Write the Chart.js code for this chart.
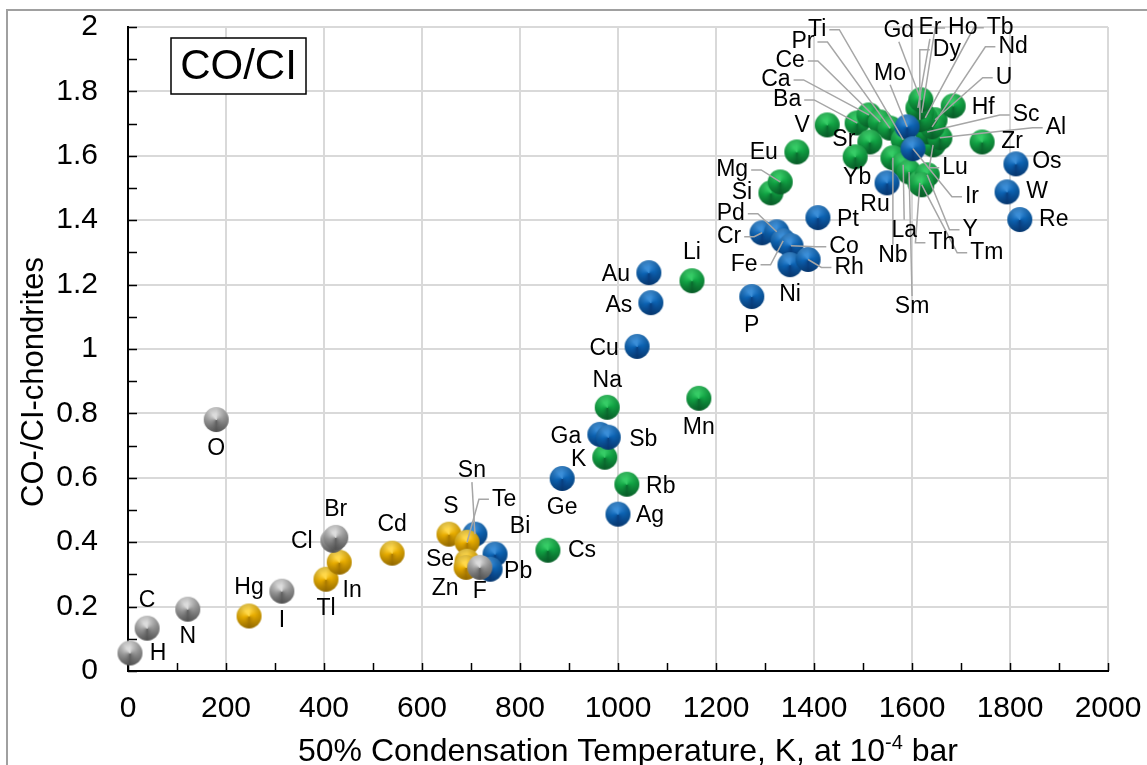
<!DOCTYPE html>
<html>
<head>
<meta charset="utf-8">
<script src="https://cdn.jsdelivr.net/npm/chart.js@4.4.1/dist/chart.umd.min.js"></script>
<style>
  html, body { margin: 0; padding: 0; background: #fff; overflow: hidden; }
  canvas { display: block; }
</style>
</head>
<body>
<canvas id="chart" width="1147" height="765"></canvas>
<script>
// CO / CI chondrite abundance ratios against 50% condensation temperature
const FONT = '"Liberation Sans", Arial, sans-serif';

// Highly volatile elements (grey)
const volatileNames = ['H', 'C', 'N', 'O', 'I', 'Cl', 'Br', 'F'];
const volatileTc    = [4, 39, 122, 180, 314, 418, 424, 718];
const volatileRatio = [0.056, 0.133, 0.192, 0.781, 0.248, 0.406, 0.415, 0.322];

// Moderately volatile chalcophile elements (yellow)
const chalcNames = ['Hg', 'Tl', 'In', 'Cd', 'S', 'Te', 'Se', 'Zn'];
const chalcTc    = [247, 404, 431, 539, 655, 692, 692, 690];
const chalcRatio = [0.171, 0.285, 0.338, 0.366, 0.425, 0.400, 0.341, 0.322];

// Siderophile elements (blue)
const sidNames = ['Sn', 'Bi', 'Pb', 'Ge', 'Ag', 'Ga', 'Sb', 'Cu', 'As', 'Au', 'P', 'Cr',
                  'Pd', 'Fe', 'Co', 'Ni', 'Rh', 'Pt', 'Ru', 'Mo', 'Ir', 'Os', 'W', 'Re'];
const sidTc    = [708, 749, 739, 886, 1000, 963, 980, 1039, 1067, 1063, 1273, 1294,
                  1324, 1337, 1353, 1351, 1388, 1408, 1549, 1590, 1602, 1812, 1794, 1820];
const sidRatio = [0.425, 0.363, 0.316, 0.598, 0.487, 0.735, 0.726, 1.008, 1.144, 1.237, 1.163, 1.361,
                  1.364, 1.336, 1.321, 1.262, 1.278, 1.408, 1.516, 1.690, 1.622, 1.575, 1.488, 1.402];

// Lithophile elements (green)
const lithNames = ['Cs', 'K', 'Rb', 'Na', 'Mn', 'Li', 'Si', 'Mg', 'Eu', 'V', 'Ba', 'Ca',
                   'Ce', 'Pr', 'Ti', 'Sr', 'Yb', 'Nb', 'La', 'Sm', 'Th', 'Y', 'Tm', 'Lu',
                   'Sc', 'Al', 'U', 'Nd', 'Tb', 'Ho', 'Dy', 'Er', 'Gd', 'Hf', 'Zr'];
const lithTc    = [857, 973, 1018, 978, 1165, 1151, 1312, 1331, 1365, 1427, 1488, 1512,
                   1535, 1555, 1582, 1514, 1484, 1561, 1582, 1594, 1616, 1631, 1620, 1643,
                   1631, 1657, 1647, 1641, 1627, 1620, 1616, 1612, 1618, 1684, 1743];
const lithRatio = [0.375, 0.664, 0.580, 0.819, 0.847, 1.212, 1.485, 1.519, 1.612, 1.696, 1.702, 1.727,
                   1.705, 1.686, 1.650, 1.643, 1.597, 1.594, 1.572, 1.550, 1.516, 1.541, 1.510, 1.634,
                   1.674, 1.656, 1.712, 1.690, 1.718, 1.733, 1.712, 1.749, 1.774, 1.755, 1.643];

// Axis tick labels
const xTickLabels = ['0', '200', '400', '600', '800', '1000', '1200', '1400', '1600', '1800', '2000'];
const yTickLabels = ['0', '0.2', '0.4', '0.6', '0.8', '1', '1.2', '1.4', '1.6', '1.8', '2'];

// Label placement: offset of the label centre from its marker, optional leader line
const labelPlacement = {
  H: [28, 1], C: [0, -28], N: [0, 27], O: [0, 29], I: [0, 30], Cl: [-31, 1], Br: [0, -28], F: [0, 24],
  Hg: [0, -28], Tl: [0, 29], In: [13, 28], Cd: [0, -28], S: [2, -27], Te: [37, -43, 1], Se: [-27, -2], Zn: [-21, 21],
  Sn: [-3, -63, 1], Bi: [25, -27], Pb: [28, 2], Ge: [0, 29], Ag: [32, 1], Ga: [-34, 2], Sb: [35, 2],
  Cu: [-33, 2], As: [-32, 3], Au: [-33, 2], P: [0, 29], Cr: [-33, 4, 1], Pd: [-46, -18, 1], Fe: [-39, 24, 1],
  Co: [53, 1, 1], Ni: [0, 30], Rh: [41, 8, 1], Pt: [30, 2], Ru: [-12, 22], Mo: [-17, -53, 1], Ir: [59, 48, 1],
  Os: [31, -2], W: [30, 0], Re: [34, 0],
  Cs: [34, 0], K: [-26, 2], Rb: [34, 2], Na: [0, -27], Mn: [0, 29], Li: [0, -28], Si: [-29, 0],
  Mg: [-48, -12, 1], Eu: [-33, 1], V: [-25, 1], Ba: [-70, -23, 1], Ca: [-93, -35, 1], Ce: [-90, -61, 1],
  Pr: [-87, -86, 1], Ti: [-86, -110, 1], Sr: [-26, -2], Yb: [2, 21], Nb: [0, 98, 1], La: [1, 66, 1],
  Sm: [3, 135, 1], Th: [22, 60, 1], Y: [43, 55, 1], Tm: [65, 68, 1], Lu: [22, 23, 1], Sc: [99, -17, 1],
  Al: [116, -10, 1], U: [69, -42, 1], Nd: [81, -80, 1], Tb: [75, -90, 1], Ho: [41, -85, 1], Dy: [27, -70, 1],
  Er: [12, -80, 1], Gd: [-22, -69, 1], Hf: [30, 2], Zr: [30, 0]
};

// Shaded ball marker drawn once per colour
function makeBall(light, mid, dark, r) {
  const d = Math.ceil(r * 2) + 2;
  const c = document.createElement('canvas');
  c.width = d; c.height = d;
  const g = c.getContext('2d');
  const cx = d / 2, cy = d / 2;
  const cg = g.createConicGradient(-Math.PI / 2, cx, cy);
  cg.addColorStop(0.00, light);
  cg.addColorStop(0.22, mid);
  cg.addColorStop(0.50, dark);
  cg.addColorStop(0.72, mid);
  cg.addColorStop(0.90, light);
  cg.addColorStop(1.00, light);
  g.beginPath();
  g.arc(cx, cy, r, 0, Math.PI * 2);
  g.fillStyle = cg;
  g.fill();
  const rg = g.createRadialGradient(cx, cy, r * 0.45, cx, cy, r);
  rg.addColorStop(0, 'rgba(0,0,0,0)');
  rg.addColorStop(1, 'rgba(0,0,0,0.16)');
  g.fillStyle = rg;
  g.fill();
  return c;
}

const R = 12.5;
const balls = {
  grey:   makeBall('#dcdcdc', '#9b9b9b', '#5f5f5f', R),
  yellow: makeBall('#ffd84a', '#e8ad00', '#a97900', R),
  blue:   makeBall('#3b8ed8', '#0c63b3', '#083f80', R),
  green:  makeBall('#36cc66', '#11a444', '#0a6a2e', R)
};

function points(xs, ys) { return xs.map((x, i) => ({ x: x, y: ys[i] })); }

function series(label, names, xs, ys, ball) {
  return {
    label: label,
    names: names,
    data: points(xs, ys),
    pointStyle: ball,
    pointRadius: R,
    pointHoverRadius: R,
    showLine: false,
    clip: false
  };
}

const framePlugin = {
  id: 'frame',
  beforeDraw(chart) {
    const ctx = chart.ctx;
    ctx.save();
    ctx.fillStyle = '#fff';
    ctx.fillRect(0, 0, chart.width, chart.height);
    ctx.strokeStyle = '#a0a0a0';
    ctx.lineWidth = 2;
    ctx.strokeRect(7, 10, chart.width + 20, chart.height + 20);
    ctx.restore();
  },
  beforeDatasetsDraw(chart) {
    // inward minor/major ticks on both axes
    const ctx = chart.ctx, xs = chart.scales.x, ys = chart.scales.y;
    const area = chart.chartArea;
    ctx.save();
    ctx.strokeStyle = '#000';
    ctx.lineWidth = 1.5;
    ctx.beginPath();
    for (let k = 0; k <= 20; k++) {
      const py = Math.round(ys.getPixelForValue(k * 0.1)) + 0.5;
      ctx.moveTo(area.left, py); ctx.lineTo(area.left + 9, py);
      const px = Math.round(xs.getPixelForValue(k * 100)) + 0.5;
      ctx.moveTo(px, area.bottom); ctx.lineTo(px, area.bottom - 8);
    }
    ctx.stroke();
    ctx.restore();
  },
  afterDatasetsDraw(chart) {
    const ctx = chart.ctx;
    ctx.save();
    ctx.font = '23px ' + FONT;
    ctx.textAlign = 'center';
    ctx.textBaseline = 'middle';
    const items = [];
    chart.data.datasets.forEach((ds, di) => {
      const meta = chart.getDatasetMeta(di);
      meta.data.forEach((el, i) => {
        const name = ds.names[i];
        const p = labelPlacement[name] || [0, -28];
        items.push({ name, px: el.x, py: el.y, lx: el.x + p[0], ly: el.y + p[1], leader: !!p[2] });
      });
    });
    // leader lines
    ctx.strokeStyle = '#a6a6a6';
    ctx.lineWidth = 1.5;
    items.forEach(it => {
      if (!it.leader) return;
      const hw = ctx.measureText(it.name).width / 2 + 3;
      const hh = 11;
      const dx = it.px - it.lx, dy = it.py - it.ly;
      ctx.beginPath();
      if (Math.abs(dx) > hw + 5) {
        const s = Math.sign(dx);
        const sx = it.lx + s * hw;
        ctx.moveTo(sx, it.ly);
        ctx.lineTo(sx + s * 10, it.ly);
      } else {
        ctx.moveTo(it.lx, it.ly + Math.sign(dy) * hh);
      }
      ctx.lineTo(it.px, it.py);
      ctx.stroke();
    });
    // element symbols
    ctx.fillStyle = '#000';
    items.forEach(it => ctx.fillText(it.name, it.lx, it.ly));
    ctx.restore();
  },
  afterDraw(chart) {
    const ctx = chart.ctx;
    ctx.save();
    ctx.fillStyle = '#000';
    // y axis title
    ctx.font = '31px ' + FONT;
    ctx.textAlign = 'center';
    ctx.textBaseline = 'middle';
    ctx.translate(34, 382);
    ctx.rotate(-Math.PI / 2);
    ctx.fillText('CO-/CI-chondrites', 0, 0);
    ctx.setTransform(1, 0, 0, 1, 0, 0);
    // x axis title with superscript exponent
    const main = '50% Condensation Temperature, K, at 10';
    const sup = '-4';
    const tail = ' bar';
    ctx.font = '32px ' + FONT;
    const w1 = ctx.measureText(main).width, w3 = ctx.measureText(tail).width;
    ctx.font = '20px ' + FONT;
    const w2 = ctx.measureText(sup).width;
    const total = w1 + w2 + w3;
    const x0 = 628 - total / 2;
    const yb = 761;
    ctx.textAlign = 'left';
    ctx.textBaseline = 'alphabetic';
    ctx.font = '32px ' + FONT;
    ctx.fillText(main, x0, yb);
    ctx.font = '20px ' + FONT;
    ctx.fillText(sup, x0 + w1, yb - 12);
    ctx.font = '32px ' + FONT;
    ctx.fillText(tail, x0 + w1 + w2, yb);
    // CO/CI caption box
    ctx.fillStyle = '#fff';
    ctx.fillRect(171, 38, 135, 56);
    ctx.strokeStyle = '#000';
    ctx.lineWidth = 1.5;
    ctx.strokeRect(171, 38, 135, 56);
    ctx.fillStyle = '#000';
    ctx.font = '42px ' + FONT;
    ctx.textAlign = 'center';
    ctx.textBaseline = 'middle';
    ctx.fillText('CO/CI', 238.5, 67);
    ctx.restore();
  }
};

new Chart(document.getElementById('chart'), {
  type: 'scatter',
  data: {
    datasets: [
      series('Volatile', volatileNames, volatileTc, volatileRatio, balls.grey),
      series('Chalcophile', chalcNames, chalcTc, chalcRatio, balls.yellow),
      series('Siderophile', sidNames, sidTc, sidRatio, balls.blue),
      series('Lithophile', lithNames, lithTc, lithRatio, balls.green)
    ]
  },
  options: {
    responsive: false,
    animation: false,
    devicePixelRatio: 1,
    layout: { padding: { left: 0, right: 39, top: 27, bottom: 0 } },
    plugins: { legend: { display: false }, tooltip: { enabled: false } },
    scales: {
      x: {
        type: 'linear', min: 0, max: 2000,
        afterFit(s) { s.height = 94; s.paddingLeft = 0; s.paddingRight = 0; },
        ticks: {
          stepSize: 200, padding: 20, color: '#000', maxRotation: 0,
          font: { family: FONT, size: 30 },
          callback: (v, i) => xTickLabels[i]
        },
        grid: { color: '#d9d9d9', lineWidth: 2, drawTicks: false },
        border: { color: '#000', width: 2 }
      },
      y: {
        type: 'linear', min: 0, max: 2,
        afterFit(s) { s.width = 128; s.paddingTop = 0; s.paddingBottom = 0; },
        ticks: {
          stepSize: 0.2, padding: 30, color: '#000',
          font: { family: FONT, size: 30 },
          callback: (v, i) => yTickLabels[i]
        },
        grid: { color: '#d9d9d9', lineWidth: 2, drawTicks: false },
        border: { color: '#000', width: 2 }
      }
    }
  },
  plugins: [framePlugin]
});
</script>
</body>
</html>
